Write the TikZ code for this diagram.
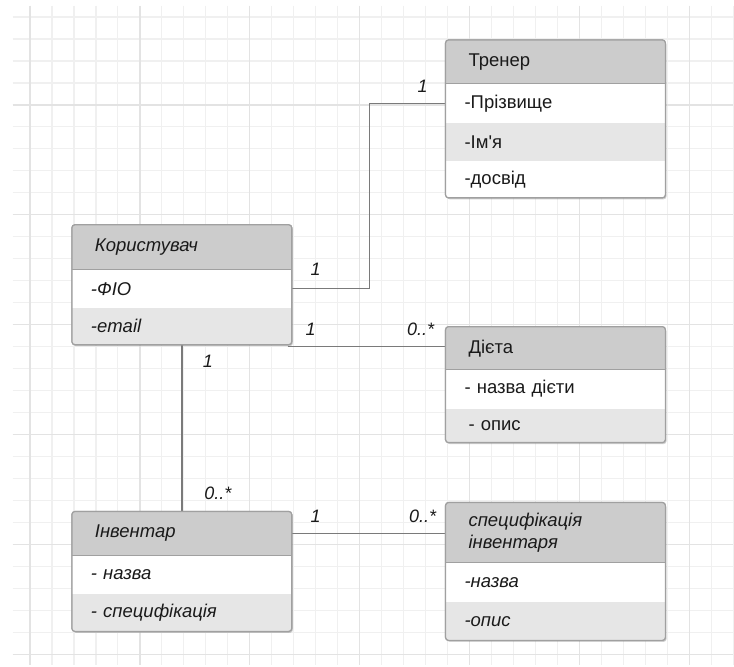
\documentclass[tikz,border=0pt]{standalone}
\usepackage{fontspec}
\setmainfont{Liberation Sans}
\usetikzlibrary{shadows,calc}
\definecolor{gridminor}{HTML}{F0F0F0}
\definecolor{gridmajor}{HTML}{E3E3E3}
\definecolor{hdrgray}{HTML}{CCCCCC}
\definecolor{altgray}{HTML}{E6E6E6}
\definecolor{boxline}{HTML}{A0A0A0}
\definecolor{connline}{HTML}{7A7A7A}
\definecolor{txt}{HTML}{1A1A1A}
\pgfdeclarelayer{bg}
\pgfsetlayers{bg,main}
\newcommand{\bodyfnt}{\fontsize{18.5}{22}\selectfont}
\begin{document}
\begin{tikzpicture}[x=1pt,y=-1pt,
  classbox/.style={rectangle, draw=boxline, line width=1.2pt, fill=white, rounded corners=3pt, inner sep=0pt, outer sep=0pt, minimum width=220pt, drop shadow={shadow xshift=1.2pt, shadow yshift=-1.5pt, opacity=0.3, fill=black!60}},
  hdr/.style={rectangle, fill=hdrgray, inner xsep=23pt, inner ysep=0pt, outer sep=0pt, text width=174pt, align=left, anchor=north west, font=\bodyfnt, text=txt},
  rowbase/.style={rectangle, inner xsep=19pt, inner ysep=0pt, outer sep=0pt, text width=182pt, align=left, anchor=north west, font=\bodyfnt, text=txt},
  roww/.style={rowbase, fill=white},
  rowg/.style={rowbase, fill=altgray},
  ital/.style={font=\bodyfnt\itshape},
  outline/.style={draw=boxline, line width=1.2pt, rounded corners=3pt},
  sepline/.style={draw=boxline, line width=1pt},
  conn/.style={draw=connline, line width=1.5pt},
  mult/.style={font=\fontsize{18}{20}\selectfont\itshape, text=txt, inner sep=0pt},
  minorline/.style={draw=gridminor, line width=1.2pt},
  majorline/.style={draw=gridmajor, line width=1.4pt},
]
\begin{pgfonlayer}{bg}
\fill[white] (0,0) rectangle (734,666);
\foreach \x in {30,52,...,734} \draw[minorline] (\x,6) -- (\x,666);
\foreach \y in {17,39,...,655} \draw[minorline] (13,\y) -- (734,\y);
\foreach \x in {30,140,...,690} \draw[majorline] (\x,6) -- (\x,666);
\foreach \y in {105,215,...,655} \draw[majorline] (13,\y) -- (734,\y);
\end{pgfonlayer}

% Тренер
\node[classbox, minimum height=158pt] (trener) at (556,119) {};
\begin{scope}
\clip[rounded corners=3pt] (trener.north west) rectangle (trener.south east);
\node[hdr, minimum height=44pt] (trenerH) at (trener.north west) {Тренер};
\node[roww, minimum height=39pt] (trener1) at (trenerH.south west) {-Прізвище};
\node[rowg, minimum height=38pt] (trener2) at (trener1.south west) {-Ім\textquotesingle я};
\node[roww, minimum height=37pt] (trener3) at (trener2.south west) {-досвід};
\end{scope}
\draw[sepline] (trenerH.south west) -- (trenerH.south east);
\draw[outline] (trener.north west) rectangle (trener.south east);

% Користувач
\node[classbox, minimum height=120pt] (user) at (182,285) {};
\begin{scope}
\clip[rounded corners=3pt] (user.north west) rectangle (user.south east);
\node[hdr, ital, minimum height=45pt] (userH) at (user.north west) {Користувач};
\node[roww, ital, minimum height=38pt] (user1) at (userH.south west) {-ФІО};
\node[rowg, ital, minimum height=37pt] (user2) at (user1.south west) {-email};
\end{scope}
\draw[sepline] (userH.south west) -- (userH.south east);
\draw[outline] (user.north west) rectangle (user.south east);

% Дієта
\node[classbox, minimum height=116pt] (dieta) at (556,385) {};
\begin{scope}
\clip[rounded corners=3pt] (dieta.north west) rectangle (dieta.south east);
\node[hdr, minimum height=43pt] (dietaH) at (dieta.north west) {Дієта};
\node[roww, minimum height=39pt] (dieta1) at (dietaH.south west) {- назва дієти};
\node[rowg, minimum height=34pt] (dieta2) at (dieta1.south west) {\hspace*{4pt}- опис};
\end{scope}
\draw[sepline] (dietaH.south west) -- (dietaH.south east);
\draw[outline] (dieta.north west) rectangle (dieta.south east);

% Інвентар
\node[classbox, minimum height=120pt] (inv) at (182,572) {};
\begin{scope}
\clip[rounded corners=3pt] (inv.north west) rectangle (inv.south east);
\node[hdr, ital, minimum height=44pt] (invH) at (inv.north west) {Інвентар};
\node[roww, ital, minimum height=39pt] (inv1) at (invH.south west) {- назва};
\node[rowg, ital, minimum height=37pt] (inv2) at (inv1.south west) {- специфікація};
\end{scope}
\draw[sepline] (invH.south west) -- (invH.south east);
\draw[outline] (inv.north west) rectangle (inv.south east);

% специфікація інвентаря
\node[classbox, minimum height=138pt] (spec) at (556,572) {};
\begin{scope}
\clip[rounded corners=3pt] (spec.north west) rectangle (spec.south east);
\node[hdr, font=\fontsize{18.5}{22}\selectfont\itshape, minimum height=60pt] (specH) at (spec.north west) {специфікація\\інвентаря};
\node[roww, ital, minimum height=40pt] (spec1) at (specH.south west) {-назва};
\node[rowg, ital, minimum height=38pt] (spec2) at (spec1.south west) {-опис};
\end{scope}
\draw[sepline] (specH.south west) -- (specH.south east);
\draw[outline] (spec.north west) rectangle (spec.south east);

% connectors
\begin{pgfonlayer}{bg}
\draw[conn] (user.east |- user1) -- ++(78,0) |- (trener.west |- trener1);
\draw[conn] ([xshift=-4pt,yshift=-2pt]user.south east) -- ([yshift=-2pt]dieta.west |- user.south east);
\draw[conn] (user.south) -- (inv.north);
\draw[conn] (inv.east |- invH) -- (spec.west |- invH);
\end{pgfonlayer}

% multiplicities
\node[mult] (m1) at (316,270) {1};
\node[mult] (m2) at (423,86) {1};
\node[mult] (m3) at (311,330) {1};
\node[mult] (m4) at (421,330) {0..*};
\node[mult] (m5) at (208,362) {1};
\node[mult] (m6) at (218,494) {0..*};
\node[mult] (m7) at (316,517) {1};
\node[mult] (m8) at (423,517) {0..*};
\end{tikzpicture}
\end{document}
